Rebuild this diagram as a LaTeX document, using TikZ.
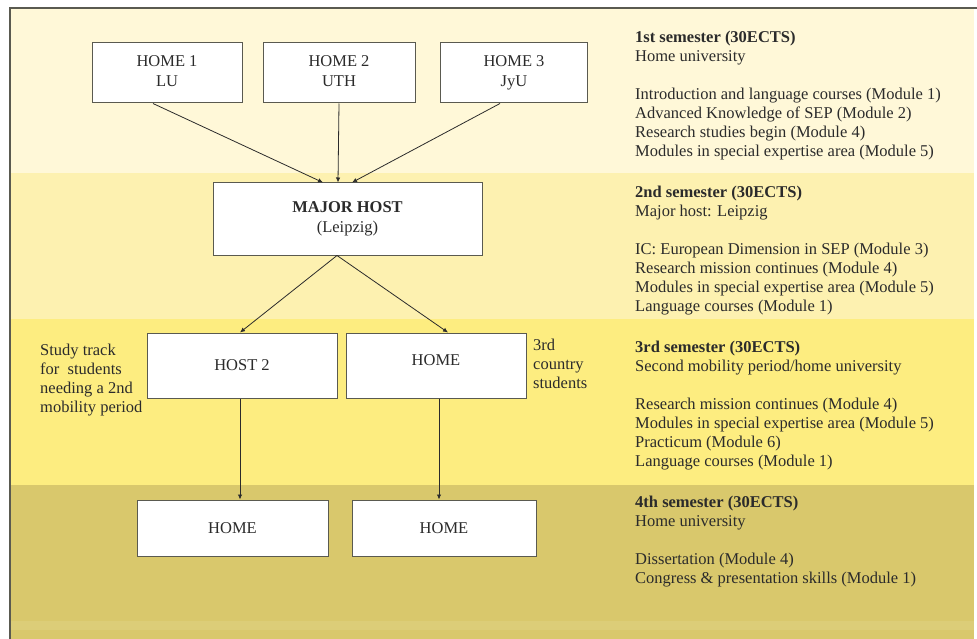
\documentclass[tikz,border=0pt]{standalone}
\usepackage{fontspec}
\setmainfont{Liberation Serif}
\usetikzlibrary{arrows.meta}
\definecolor{bandA}{HTML}{FFF8D8}
\definecolor{bandB}{HTML}{FDF1B0}
\definecolor{bandC}{HTML}{FDED80}
\definecolor{bandD}{HTML}{D9C86C}
\definecolor{ink}{HTML}{2B2B2B}
\definecolor{edge}{HTML}{5A5A50}
\newcommand{\blk}[1]{\parbox[t]{330pt}{\raggedright #1}}
\tikzset{
  box/.style={draw=edge, line width=1pt, fill=white, inner sep=0pt, align=center,
    font=\fontsize{16.5}{20}\selectfont, text=ink},
  txt/.style={anchor=base west, inner sep=0pt, font=\fontsize{16.5}{19}\selectfont, text=ink},
  arr/.style={draw=ink, line width=0.8pt, -{Latex[length=5pt,width=4.5pt]}}
}
\begin{document}
\begin{tikzpicture}[x=1pt,y=-1pt]
\useasboundingbox (0,0) rectangle (977,639);
\fill[white] (0,0) rectangle (977,639);
% bands
\fill[bandA] (10,8) rectangle (974,173);
\fill[bandB] (10,173) rectangle (974,319);
\fill[bandC] (10,319) rectangle (974,485);
\fill[bandD] (10,485) rectangle (974,639);
\fill[bandD!92!white] (10,621) rectangle (974,630);
% frame
\draw[edge, line width=1.6pt] (10,639) -- (10,8) -- (977,8);
% boxes
\node[box, minimum width=150pt, minimum height=60pt] (h1) at (167,73) {\strut HOME 1\\\strut LU};
\node[box, minimum width=152pt, minimum height=60pt] (h2) at (339,73) {\strut HOME 2\\\strut UTH};
\node[box, minimum width=147pt, minimum height=60pt] (h3) at (514,73) {\strut HOME 3\\\strut JyU};
\node[box, minimum width=269pt, minimum height=72pt] (mh) at (347.5,219) {\strut\textbf{MAJOR HOST}\\\strut(Leipzig)};
\node[box, minimum width=190pt, minimum height=65pt] (host) at (242,365.5) {HOST 2};
\node[box, minimum width=180pt, minimum height=65pt, text depth=10pt] (home) at (436,365.5) {HOME};
\node[box, minimum width=191pt, minimum height=56pt] (hA) at (232.5,528) {HOME};
\node[box, minimum width=184pt, minimum height=56pt] (hB) at (444,528) {HOME};
% connectors
\draw[arr] (h1.south -| 153,0) -- (mh.north -| 323,0);
\draw[arr] (h2.south -| 339,0) -- (mh.north -| 338,0);
\draw[arr] (h3.south -| 500,0) -- (mh.north -| 352,0);
\draw[arr] (mh.south -| 337,0) -- (host.north -| 240,0);
\draw[arr] (mh.south -| 337,0) -- (home.north -| 448,0);
\draw[arr] (host.south -| 240,0) -- (hA.north -| 240,0);
\draw[arr] (home.south -| 439,0) -- (hB.north -| 439,0);
% side notes
\node[txt] (track) at (40,355) {\parbox[t]{130pt}{\raggedright Study track\\for\ \ students\\needing a 2nd\\mobility period}};
\node[txt] (third) at (533,350) {\parbox[t]{80pt}{\raggedright 3rd\\country\\students}};
% semester descriptions
\node[txt] (s1) at (635,43) {\blk{\textbf{1st semester (30ECTS)}\\Home university\\[19pt]
Introduction and language courses (Module 1)\\Advanced Knowledge of SEP (Module 2)\\Research studies begin (Module 4)\\Modules in special expertise area (Module 5)}};
\node[txt] (s2) at (635,198) {\blk{\textbf{2nd semester (30ECTS)}\\Major host: Leipzig\\[19pt]
IC: European Dimension in SEP (Module 3)\\Research mission continues (Module 4)\\Modules in special expertise area (Module 5)\\Language courses (Module 1)}};
\node[txt] (s3) at (635,352) {\blk{\textbf{3rd semester (30ECTS)}\\Second mobility period/home university\\[19pt]
Research mission continues (Module 4)\\Modules in special expertise area (Module 5)\\Practicum (Module 6)\\Language courses (Module 1)}};
\node[txt] (s4) at (635,507) {\blk{\textbf{4th semester (30ECTS)}\\Home university\\[19pt]
Dissertation (Module 4)\\Congress \& presentation skills (Module 1)}};
\end{tikzpicture}
\end{document}
